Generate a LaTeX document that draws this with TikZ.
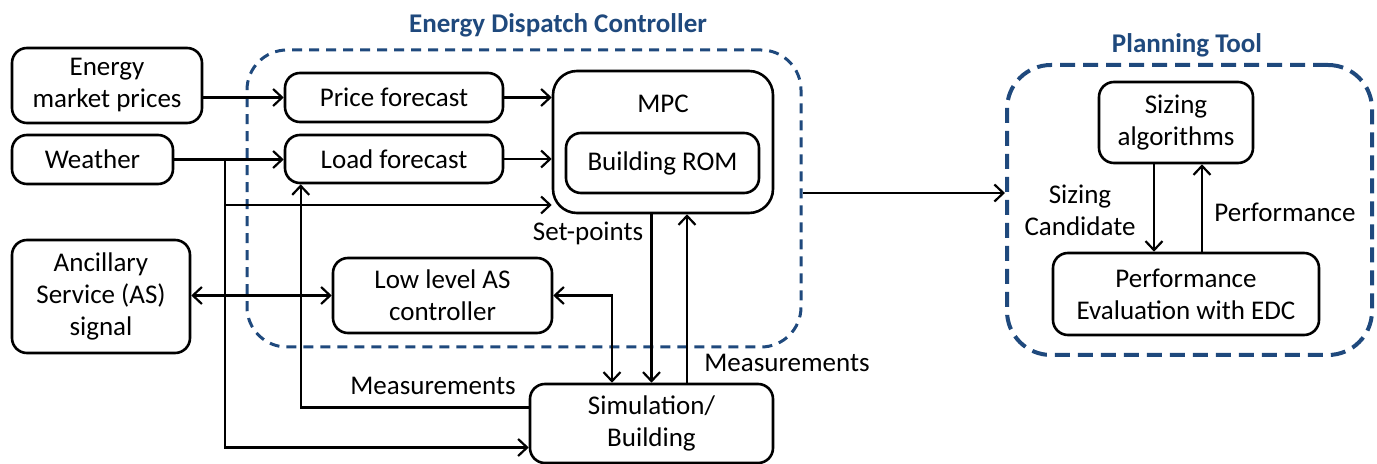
\documentclass[tikz,border=0pt]{standalone}
\usepackage{fontspec}
\setmainfont{Carlito}
\usetikzlibrary{arrows.meta}
\definecolor{edcblue}{RGB}{31,73,125}

\begin{document}
\begin{tikzpicture}[x=0.5pt,y=-0.5pt,line width=1.1pt,
        font=\fontsize{13.5}{16}\selectfont,
        >={Straight Barb[length=4.5pt,width=8.5pt]},
        box/.style={draw,line width=1.3pt,rounded corners=7.5pt,align=center,inner sep=0pt},
        group/.style={draw=edcblue,line width=1.5pt,dash pattern=on 5pt off 3.5pt,rounded corners=20pt},
        title/.style={font=\fontsize{13.5}{16}\selectfont\bfseries,text=edcblue}]
    \useasboundingbox (0,0) rectangle (1377,464);

    % dashed groups
    \node[group,minimum width=277pt,minimum height=148.5pt] (edc) at (524,198.5) {};
    \node[group,line width=2pt,dash pattern=on 7.5pt off 4pt,rounded corners=22pt,
        minimum width=182.5pt,minimum height=145pt] (plan) at (1189.5,210) {};
    \node[title] (edctitle) at (558,25) {Energy Dispatch Controller};
    \node[title] (plantitle) at (1187,45) {Planning Tool};

    % inputs
    \node[box,minimum width=95pt,minimum height=37.5pt] (prices) at (107,85.5) {Energy\\market prices};
    \node[box,minimum width=80.5pt,minimum height=24.5pt] (weather) at (92.5,159.5) {Weather};
    \node[box,minimum width=89pt,minimum height=56.5pt] (ancillary) at (101,296.5) {Ancillary\\Service (AS)\\signal};

    % controller
    \node[box,minimum width=109pt,minimum height=24.5pt] (pricefc) at (394,97.5) {Price forecast};
    \node[box,minimum width=109pt,minimum height=24pt] (loadfc) at (394,159) {Load forecast};
    \node[box,rounded corners=12pt,minimum width=110pt,minimum height=71pt,
        label={[anchor=center,yshift=-17pt]north:MPC}] (mpc) at (663,142) {};
    \node[box,minimum width=96.5pt,minimum height=30pt] (rom) at (662.5,163) {Building ROM};
    \node[box,minimum width=109.5pt,minimum height=37.5pt] (lowas) at (442.5,295.5) {Low level AS\\controller};
    \node[box,minimum width=121.5pt,minimum height=39.5pt] (sim) at (651.5,423.5) {Simulation/\\Building};

    % planning tool
    \node[box,minimum width=77pt,minimum height=40.5pt] (sizing) at (1176,122.5) {Sizing\\algorithms};
    \node[box,minimum width=133pt,minimum height=41pt] (perfeval) at (1186,294) {Performance\\Evaluation with EDC};

    % signal flow
    \draw[->] (prices.east |- pricefc) -- (pricefc.west);
    \draw[->] (weather.east) -- (weather.east -| loadfc.west);
    \coordinate (wtap) at (225,159.5);
    \coordinate (wmpc) at (225,205);
    \draw[->] (wtap) |- ([yshift=-12pt]sim.west);
    \draw[->] (wmpc) -- (wmpc -| mpc.west);
    \draw[->] (pricefc.east) -- (pricefc.east -| mpc.west);
    \draw[->] (loadfc.east) -- (loadfc.east -| mpc.west);
    \draw[->] ([yshift=8pt]sim.west) -| ([xshift=8.5pt]loadfc.south west);
    \draw[<->] (ancillary.east |- lowas) -- (lowas.west);
    \draw[<->] (lowas.east) -| ([xshift=-19.75pt]sim.north);
    \draw[->] (mpc.south -| sim.north) -- (sim.north);
    \draw[->] ([xshift=17.75pt]sim.north) -- ([xshift=17.75pt]sim.north |- mpc.south);
    \draw[->] ([yshift=2.75pt]edc.east) -- ([yshift=2.75pt]edc.east -| plan.west);
    \draw[->] ([xshift=-11pt]sizing.south) -- ([xshift=-11pt]sizing.south |- perfeval.north);
    \draw[->] ([xshift=13pt]sizing.south |- perfeval.north) -- ([xshift=13pt]sizing.south);

    % labels
    \node[anchor=east] (setpts) at (651,233) {Set-points};
    \node (measleft) at (433,386) {Measurements};
    \node (measright) at (787,363) {Measurements};
    \node[align=center] (sizcand) at (1080,210) {Sizing\\Candidate};
    \node (perflbl) at (1285,212) {Performance};
\end{tikzpicture}
\end{document}
